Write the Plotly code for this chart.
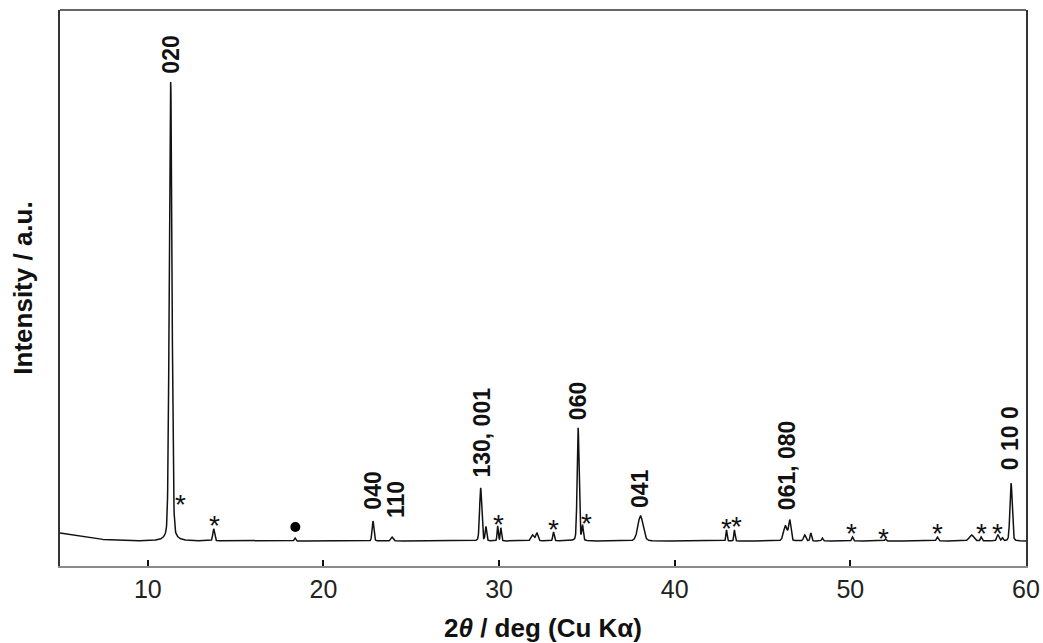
import numpy as np
import plotly.graph_objects as go

# Background of the pattern (2θ, intensity)
baseline_x = [5.0, 5.7, 6.5, 7.1, 7.9, 9.0, 60.0]
baseline_y = [132, 124, 116, 108, 104, 100, 100]

# Reflections: position (deg 2θ), net height above background (a.u.), FWHM (deg)
peak_pos = [11.30, 13.75, 18.38, 22.82, 23.90, 28.95, 29.25, 29.92, 30.10,
            31.90, 32.15, 33.10, 34.50, 34.75, 38.05, 42.95, 43.40, 46.30,
            46.55, 47.40, 47.75, 48.40, 50.12, 52.00, 54.95, 56.90, 57.45,
            58.40, 58.65, 59.15]
peak_height = [1836, 48, 12, 80, 16, 212, 56, 60, 52,
               24, 32, 36, 452, 60, 100, 44, 44, 60,
               80, 24, 32, 12, 16, 8, 16, 24, 16,
               24, 12, 232]
peak_fwhm = [0.18, 0.12, 0.10, 0.12, 0.15, 0.14, 0.10, 0.08, 0.08,
             0.20, 0.15, 0.10, 0.13, 0.10, 0.35, 0.08, 0.08, 0.25,
             0.15, 0.15, 0.10, 0.10, 0.10, 0.10, 0.12, 0.30, 0.10,
             0.15, 0.10, 0.15]

# Miller-index labels
hkl_text = ["020", "040", "110", "130, 001", "060", "041", "061, 080", "0 10 0"]
hkl_x = [11.3, 22.8, 24.1, 29.0, 34.5, 38.0, 46.4, 59.1]
hkl_y = [1960, 216, 184, 344, 576, 224, 216, 376]

# Impurity reflections (*) and the secondary phase (●)
star_x = [11.88, 13.8, 29.94, 33.07, 35.0, 42.92, 43.5, 50.06, 51.9,
          54.94, 57.44, 58.35]
star_y = [272, 188, 192, 172, 196, 176, 184, 156, 136, 156, 156, 156]
dot_x = [18.4]
dot_y = [156]

x_ticks = [10, 20, 30, 40, 50, 60]


def pseudo_voigt(x, x0, h, fwhm, eta=0.2):
    g = np.exp(-4 * np.log(2) * ((x - x0) / fwhm) ** 2)
    lor = 1.0 / (1.0 + 4 * ((x - x0) / fwhm) ** 2)
    return h * ((1 - eta) * g + eta * lor)


tt = np.arange(5.0, 60.0001, 0.01)
intensity = np.interp(tt, baseline_x, baseline_y)
for p, h, w in zip(peak_pos, peak_height, peak_fwhm):
    intensity = intensity + pseudo_voigt(tt, p, h, w)

FONT = "Liberation Sans, Arial, sans-serif"

fig = go.Figure()
fig.add_trace(go.Scatter(x=tt, y=intensity, mode="lines",
                         line=dict(color="#111111", width=1.5),
                         hoverinfo="skip", showlegend=False))
fig.add_trace(go.Scatter(x=dot_x, y=dot_y, mode="markers",
                         marker=dict(color="#000000", size=10, symbol="circle"),
                         showlegend=False, hoverinfo="skip"))

annotations = []
for t, x, y in zip(hkl_text, hkl_x, hkl_y):
    annotations.append(dict(x=x, y=y, xref="x", yref="y", text="<b>%s</b>" % t,
                            textangle=-90, showarrow=False, xanchor="center",
                            yanchor="bottom",
                            font=dict(family=FONT, size=23, color="#111111")))
for x, y in zip(star_x, star_y):
    annotations.append(dict(x=x, y=y, xref="x", yref="y", text="*",
                            showarrow=False, xanchor="center", yanchor="middle",
                            yshift=-6,
                            font=dict(family=FONT, size=28, color="#111111")))

fig.update_layout(
    width=1043, height=643,
    margin=dict(l=60, r=17, t=10, b=77),
    paper_bgcolor="white", plot_bgcolor="white",
    font=dict(family=FONT, color="#222222"),
    annotations=annotations,
    shapes=[dict(type="line", xref="paper", yref="paper", x0=0, x1=1, y0=1, y1=1,
                 line=dict(color="#333333", width=1.5))],
)
fig.update_xaxes(
    range=[5, 60], tickvals=x_ticks, ticks="inside", ticklen=6, tickwidth=2,
    tickcolor="#111111", showline=True, linecolor="#8a8a8a", linewidth=2,
    showgrid=False, zeroline=False, automargin=False,
    tickfont=dict(family=FONT, size=25, color="#222222"),
    title=dict(text="<b>2<i>θ</i> / deg (Cu Kα)</b>", standoff=17,
               font=dict(family=FONT, size=26, color="#111111")),
)
fig.update_yaxes(
    range=[0, 2224], showticklabels=False, ticks="", showline=True,
    linecolor="#333333", linewidth=1.5, mirror=True,
    showgrid=False, zeroline=False, automargin=False,
    title=dict(text="<b>Intensity / a.u.</b>", standoff=18,
               font=dict(family=FONT, size=26, color="#111111")),
)

fig.write_html("out.html")
